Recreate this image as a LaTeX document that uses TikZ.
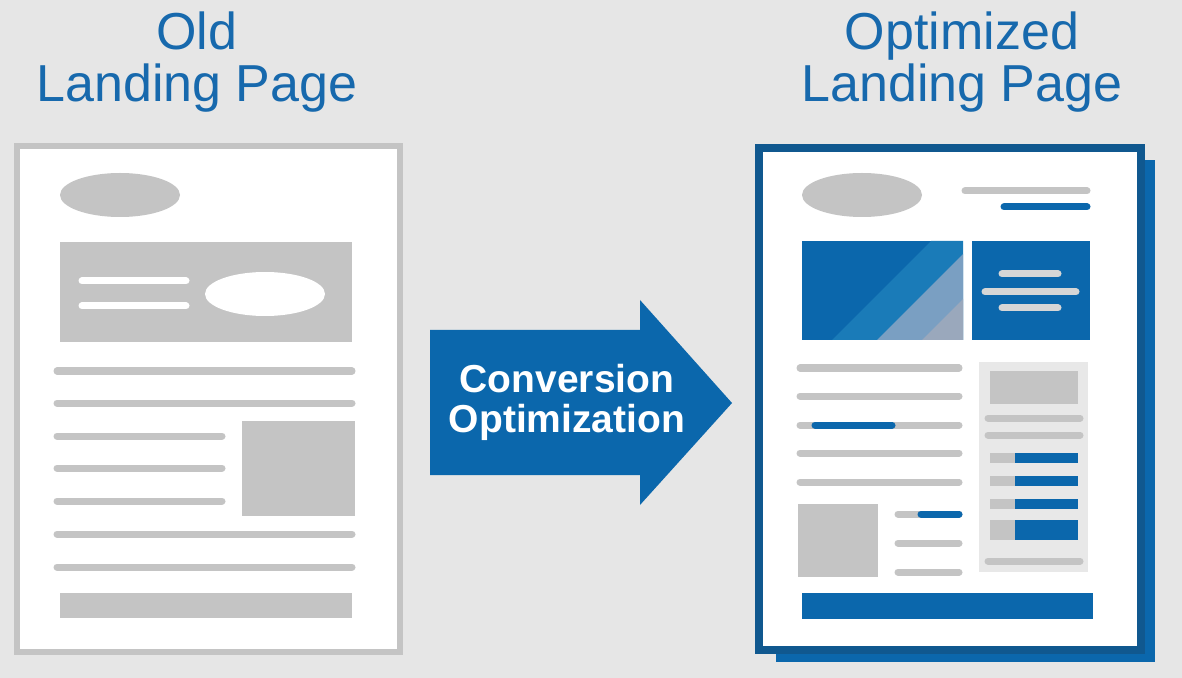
\documentclass[tikz,border=0pt]{standalone}
\usepackage{fontspec}
\setmainfont{Liberation Sans}
\definecolor{bg}{HTML}{E6E6E6}
\definecolor{lgray}{HTML}{C4C4C4}
\definecolor{pgray}{HTML}{E8E8E8}
\definecolor{cblue}{HTML}{0B67AC}
\definecolor{dblue}{HTML}{10588F}
\definecolor{tblue}{HTML}{1769AD}
\definecolor{sblue}{HTML}{1A7BB8}
\definecolor{sgray}{HTML}{7A9FC2}
\definecolor{sgray2}{HTML}{9AA8BC}
\tikzset{%
  title/.style   = {font=\fontsize{26}{30}\selectfont, text=tblue, align=center},%
  bar/.style     = {line width=3.5pt, line cap=round, draw=lgray},%
  bbar/.style    = {line width=3.5pt, line cap=round, draw=cblue},%
  wbar/.style    = {line width=3.5pt, line cap=round, draw=lgray!70},%
  blob/.style    = {fill=lgray}%
}
\begin{document}
\begin{tikzpicture}[x=0.5pt,y=-0.5pt]
  \fill[bg] (0,0) rectangle (1182,678);
  \useasboundingbox (0,0) rectangle (1182,678);
  % titles
  \node[title] (oldt) at (197,62) {Old\\[-4pt]Landing Page};
  \node[title] (optt) at (962,62) {Optimized\\[-4pt]Landing Page};
  % old page
  \draw[lgray, line width=3pt, fill=white] (17,146) rectangle (400,652);
  \fill[blob] (120,195) ellipse [x radius=60, y radius=22];
  \fill[blob] (60,242) rectangle (352,342);
  \draw[bar, draw=white] (82,281) -- (186,281);
  \draw[bar, draw=white] (82,306) -- (186,306);
  \fill[white] (265,294) ellipse [x radius=60, y radius=22];
  \foreach \y in {371,403,534,567} \draw[bar] (57,\y) -- (352,\y);
  \foreach \y in {436,468,501} \draw[bar] (57,\y) -- (222,\y);
  \fill[blob] (242,421) rectangle (355,516);
  \fill[blob] (60,593) rectangle (352,618);
  % arrow
  \fill[cblue] (430,330) -- (640,330) -- (640,300) -- (732,403) -- (640,505)
     -- (640,475) -- (430,475) -- cycle;
  \node[font=\bfseries\fontsize{19.5}{23}\selectfont, text=white, align=center]
     (conv) at (567,402) {Conversion\\[-3pt]Optimization};
  % optimized page
  \fill[cblue] (776,160) rectangle (1155,662);
  \draw[dblue, line width=4pt, fill=white] (759,148) rectangle (1141,650);
  \fill[blob] (862,195) ellipse [x radius=60, y radius=22];
  \draw[bar] (965,191) -- (1087,191);
  \draw[bbar] (1004,207) -- (1087,207);
  % hero image
  \fill[cblue] (802,241) rectangle (963,340);
  \begin{scope}
    \clip (802,241) rectangle (963,340);
    \fill[sblue] (832,340) -- (931,241) -- (1100,241) -- (1000,340) -- cycle;
    \fill[sgray] (877,340) -- (976,241) -- (1100,241) -- (1000,340) -- cycle;
    \fill[sgray2] (922,340) -- (1021,241) -- (1100,241) -- (1000,340) -- cycle;
  \end{scope}
  \fill[cblue] (972,241) rectangle (1090,340);
  \draw[wbar] (1002,274) -- (1058,274);
  \draw[wbar] (985,292) -- (1076,292);
  \draw[wbar] (1002,308) -- (1058,308);
  % body text
  \foreach \y in {368,396,425,453,482} \draw[bar] (800,\y) -- (959,\y);
  \draw[bbar] (815,425) -- (892,425);
  \fill[blob] (798,504) rectangle (878,577);
  \foreach \y in {514,543,572} \draw[bar] (898,\y) -- (959,\y);
  \draw[bbar] (921,514) -- (959,514);
  % sidebar
  \fill[pgray] (979,362) rectangle (1088,572);
  \fill[blob] (990,371) rectangle (1078,404);
  \foreach \y in {418,435,561} \draw[bar] (988,\y) -- (1080,\y);
  \foreach \y in {453,476,499} {
    \fill[blob] (990,\y) rectangle (1015,\y+10);
    \fill[cblue] (1015,\y) rectangle (1078,\y+10);
  }
  \fill[blob] (990,520) rectangle (1015,540);
  \fill[cblue] (1015,520) rectangle (1078,540);
  \fill[cblue] (802,593) rectangle (1093,619);
\end{tikzpicture}
\end{document}
